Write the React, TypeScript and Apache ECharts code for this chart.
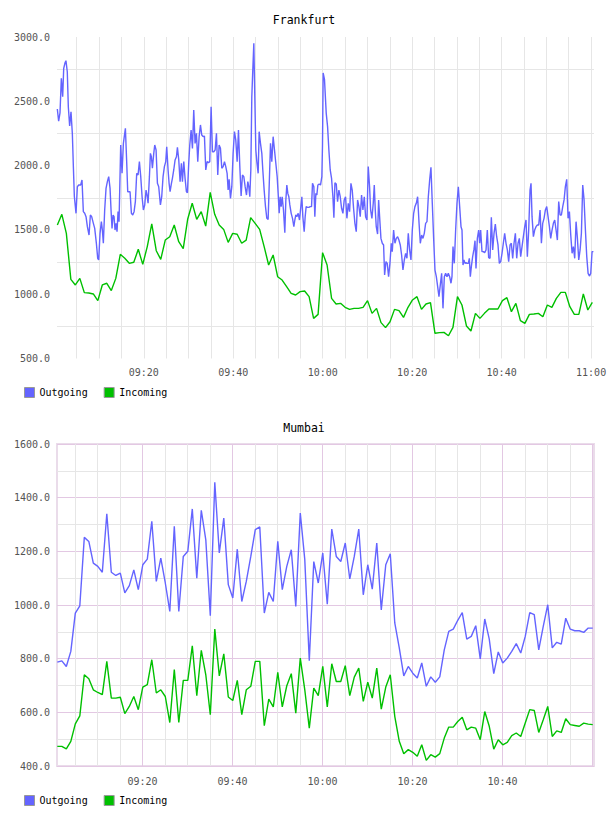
import React, { useEffect, useRef } from 'react';
import * as echarts from 'echarts';

// ---------- text ----------
const frankfurtTitle = 'Frankfurt';
const mumbaiTitle = 'Mumbai';
const seriesNames = ['Outgoing', 'Incoming'];

// ---------- Frankfurt (time in minutes after 09:00) ----------
const frankfurtXRange = [0.6, 120.65];
const frankfurtYRange = [500, 3000];

const frankfurtOutgoing: [number, number][] = [
  [0.67, 2440], [0.97, 2345], [1.27, 2410], [1.57, 2679], [1.87, 2536], [2.10, 2756], [2.40, 2800], [2.60, 2816], [2.90, 2730], [3.13, 2458],
  [3.43, 2308], [3.73, 2419], [4.03, 2250], [4.25, 2000], [4.48, 1760], [4.85, 1629], [5.15, 1836], [5.45, 1849], [5.89, 1849], [6.19, 1888],
  [6.49, 1642], [6.79, 1629], [7.09, 1603], [7.39, 1525], [7.76, 1460], [8.06, 1616], [8.35, 1603], [8.73, 1551], [9.03, 1512], [9.40, 1396],
  [9.70, 1279], [9.92, 1266], [10.22, 1473], [10.52, 1564], [10.74, 1499], [10.96, 1396], [11.26, 1655], [11.56, 1823], [11.86, 1875], [12.16, 1914],
  [12.46, 1823], [12.68, 1655], [12.90, 1512], [13.13, 1616], [13.35, 1603], [13.57, 1499], [13.80, 1551], [14.02, 1486], [14.25, 1642], [14.47, 1564],
  [14.84, 2160], [15.14, 1940], [15.44, 2173], [15.89, 2290], [16.19, 2018], [16.41, 1797], [16.93, 1797], [17.23, 1629], [17.53, 1616], [17.83, 1642],
  [18.12, 1720], [18.42, 1940], [18.72, 1927], [19.02, 2031], [19.32, 1914], [19.62, 1758], [19.91, 1655], [20.21, 1694], [20.51, 1810], [20.73, 1771],
  [20.96, 1707], [21.26, 1914], [21.48, 2095], [21.70, 2069], [21.93, 1979], [22.23, 2095], [22.45, 2160], [22.75, 2121], [23.05, 1862], [23.34, 1836],
  [23.72, 1694], [24.01, 1758], [24.31, 1914], [24.61, 1992], [24.91, 2031], [25.13, 2147], [25.43, 1966], [25.66, 1862], [25.88, 1797], [26.18, 1862],
  [26.40, 1901], [26.70, 1966], [27.00, 2044], [27.30, 2069], [27.52, 2142], [27.82, 2044], [28.12, 1875], [28.41, 2018], [28.64, 1875], [28.94, 2031],
  [29.23, 1901], [29.53, 1797], [29.76, 1790], [30.05, 2018], [30.28, 2160], [30.58, 2277], [30.88, 2134], [31.17, 2432], [31.47, 2173], [31.77, 2251],
  [32.07, 2031], [32.37, 2225], [32.67, 2316], [32.96, 2238], [33.26, 2225], [33.56, 2230], [33.86, 1966], [34.16, 2031], [34.46, 2023], [34.75, 2031],
  [35.05, 2458], [35.35, 2108], [35.65, 2108], [35.95, 2121], [36.25, 2251], [36.54, 1927], [36.84, 2160], [37.14, 2134], [37.44, 1979], [37.74, 1992],
  [38.04, 2031], [38.33, 1992], [38.63, 1940], [38.86, 1810], [39.08, 1893], [39.38, 1745], [39.68, 1836], [39.97, 2095], [40.27, 2264], [40.57, 2199],
  [40.87, 2031], [41.17, 2277], [41.47, 1992], [41.76, 1764], [42.06, 1927], [42.36, 1914], [42.66, 1836], [42.96, 1771], [43.26, 1875], [43.48, 1836],
  [43.70, 1758], [43.93, 1966], [44.15, 2536], [44.37, 2743], [44.60, 2951], [44.82, 2536], [45.05, 2121], [45.27, 2031], [45.57, 1940], [45.79, 2264],
  [46.09, 2173], [46.39, 2095], [46.61, 1966], [46.91, 1810], [47.21, 1681], [47.51, 1590], [47.80, 1582], [48.10, 1914], [48.33, 2173], [48.62, 2031],
  [48.92, 2225], [49.22, 2121], [49.52, 2018], [49.82, 1914], [50.04, 1784], [50.27, 1629], [50.49, 1758], [50.71, 1681], [50.94, 1758], [51.23, 1655],
  [51.53, 1478], [51.76, 1733], [51.98, 1849], [52.20, 1784], [52.43, 1758], [52.65, 1694], [52.95, 1629], [53.25, 1590], [53.55, 1525], [53.77, 1577],
  [53.99, 1616], [54.22, 1603], [54.52, 1629], [54.81, 1577], [55.11, 1681], [55.34, 1758], [55.56, 1603], [55.86, 1486], [56.08, 1603], [56.30, 1681],
  [56.60, 1675], [56.90, 1675], [57.20, 1681], [57.50, 1681], [57.72, 1862], [58.02, 1836], [58.24, 1603], [58.47, 1784], [58.69, 1771], [58.92, 1849],
  [59.21, 1857], [59.51, 1849], [59.81, 1914], [59.95, 2150], [60.10, 2720], [60.40, 2670], [60.79, 2406], [61.09, 2303], [61.38, 2121], [61.68, 1966],
  [61.98, 1901], [62.28, 1758], [62.50, 1595], [62.73, 1867], [63.03, 1857], [63.32, 1720], [63.62, 1810], [63.92, 1758], [64.22, 1668], [64.52, 1629],
  [64.81, 1733], [65.11, 1758], [65.41, 1590], [65.71, 1707], [66.01, 1642], [66.31, 1862], [66.60, 1810], [66.90, 1668], [67.20, 1551], [67.50, 1486],
  [67.80, 1733], [68.10, 1681], [68.39, 1603], [68.69, 1771], [68.99, 1655], [69.29, 1758], [69.59, 1603], [69.89, 1577], [70.18, 1992], [70.48, 1836],
  [70.71, 1655], [71.00, 1590], [71.30, 1707], [71.53, 1849], [71.75, 1655], [71.97, 1525], [72.27, 1468], [72.50, 1733], [72.72, 1603], [73.02, 1434],
  [73.32, 1396], [73.61, 1383], [73.84, 1149], [74.14, 1253], [74.43, 1240], [74.73, 1136], [75.03, 1240], [75.33, 1396], [75.55, 1331], [75.85, 1499],
  [76.15, 1396], [76.45, 1434], [76.75, 1447], [77.04, 1421], [77.34, 1383], [77.64, 1305], [77.94, 1188], [78.24, 1266], [78.54, 1318], [78.83, 1279],
  [79.13, 1473], [79.43, 1344], [79.73, 1266], [80.03, 1499], [80.33, 1629], [80.62, 1681], [80.92, 1707], [81.22, 1758], [81.52, 1564], [81.82, 1396],
  [82.12, 1460], [82.41, 1434], [82.71, 1473], [83.01, 1551], [83.31, 1564], [83.61, 1758], [83.91, 1888], [84.20, 1986], [84.50, 1707], [84.80, 1434],
  [85.10, 1188], [85.40, 1136], [85.70, 1059], [85.99, 981], [86.29, 1072], [86.59, 1162], [86.89, 890], [87.19, 1136], [87.48, 1162], [87.78, 1136],
  [88.08, 1162], [88.38, 1136], [88.68, 1085], [88.90, 1136], [89.13, 1370], [89.42, 1240], [89.72, 1499], [90.02, 1707], [90.32, 1836], [90.62, 1681],
  [90.92, 1525], [91.14, 1499], [91.36, 1227], [91.58, 1266], [91.81, 1240], [92.03, 1245], [92.26, 1240], [92.55, 1240], [92.78, 1279], [93.00, 1136],
  [93.23, 1214], [93.52, 1292], [93.82, 1350], [94.05, 1416], [94.27, 1201], [94.57, 1434], [94.87, 1499], [95.09, 1396], [95.31, 1499], [95.61, 1331],
  [95.91, 1331], [96.21, 1323], [96.51, 1344], [96.80, 1499], [97.10, 1284], [97.40, 1279], [97.70, 1598], [98.00, 1344], [98.30, 1473], [98.59, 1546],
  [98.89, 1447], [99.19, 1383], [99.49, 1240], [99.79, 1253], [100.09, 1318], [100.38, 1396], [100.68, 1473], [100.98, 1396], [101.28, 1344], [101.58, 1253],
  [101.88, 1383], [102.17, 1396], [102.47, 1279], [102.77, 1396], [103.07, 1473], [103.37, 1279], [103.67, 1396], [103.96, 1434], [104.26, 1292], [104.56, 1370],
  [104.86, 1447], [105.16, 1525], [105.45, 1577], [105.75, 1292], [106.05, 1499], [106.35, 1810], [106.57, 1862], [106.80, 1603], [107.10, 1447], [107.39, 1499],
  [107.69, 1525], [107.99, 1538], [108.29, 1538], [108.59, 1655], [108.89, 1396], [109.18, 1551], [109.48, 1590], [109.78, 1655], [110.08, 1681], [110.38, 1603],
  [110.68, 1525], [110.97, 1434], [111.27, 1499], [111.57, 1551], [111.87, 1577], [112.17, 1499], [112.46, 1421], [112.76, 1720], [113.06, 1616], [113.36, 1616],
  [113.66, 1681], [113.96, 1733], [114.25, 1836], [114.55, 1893], [114.85, 1590], [115.15, 1642], [115.45, 1460], [115.75, 1318], [116.04, 1370], [116.34, 1279],
  [116.64, 1564], [116.94, 1434], [117.24, 1266], [117.54, 1344], [117.83, 1473], [118.13, 1849], [118.43, 1733], [118.73, 1499], [119.03, 1292], [119.33, 1162],
  [119.62, 1141], [119.92, 1162], [120.22, 1331], [120.52, 1331],
];

// one sample per minute
const frankfurtIncomingStart = 0.68;
const frankfurtIncomingStep = 1.005;
const frankfurtIncoming = [
  1538, 1621, 1473, 1115, 1072, 1123, 1012, 1009, 1002, 950,
  1072, 1085, 1028, 1123, 1310, 1279, 1240, 1248, 1349, 1232,
  1370, 1546, 1338, 1271, 1421, 1447, 1538, 1408, 1354, 1585,
  1707, 1582, 1642, 1530, 1792, 1621, 1538, 1504, 1403, 1473,
  1466, 1396, 1421, 1595, 1551, 1504, 1370, 1227, 1305, 1136,
  1110, 1059, 1007, 994, 1020, 1025, 981, 812, 843, 1323,
  1227, 968, 924, 929, 898, 882, 890, 890, 898, 950,
  851, 890, 779, 740, 786, 882, 872, 820, 898, 955,
  981, 882, 924, 934, 696, 701, 703, 677, 742, 981,
  916, 753, 714, 851, 812, 851, 885, 885, 885, 950,
  973, 864, 929, 794, 773, 843, 846, 851, 825, 916,
  898, 968, 1014, 1014, 903, 843, 843, 1002, 877, 937,
];

// ---------- Mumbai ----------
const mumbaiXRange = [1.0, 120.35];
const mumbaiYRange = [400, 1600];
const mumbaiStart = 1.07;
const mumbaiStep = 1.0;
const mumbaiOutgoing = [
  787, 792, 771, 827, 970, 997, 1252, 1237, 1156, 1144,
  1122, 1340, 1122, 1110, 1119, 1045, 1072, 1131, 1057, 1150,
  1171, 1312, 1088, 1175, 1082, 976, 1293, 976, 1181, 1200,
  1358, 1100, 1353, 1243, 960, 1457, 1194, 1324, 1076, 1026,
  1208, 1013, 1088, 1181, 1281, 1291, 970, 1047, 1013, 1237,
  1057, 1144, 1206, 995, 1343, 1169, 792, 1162, 1082, 1194,
  1003, 1283, 1181, 1162, 1231, 1097, 1181, 1283, 1038, 1150,
  1059, 1231, 982, 1150, 1191, 933, 840, 736, 771, 746,
  728, 784, 697, 732, 712, 732, 833, 902, 910, 943,
  972, 873, 883, 923, 799, 948, 873, 744, 825, 784,
  802, 827, 856, 821, 883, 972, 964, 833, 920, 1001,
  840, 861, 854, 951, 910, 904, 904, 898, 914, 914,
];
const mumbaiIncoming = [
  473, 473, 464, 492, 557, 587, 740, 725, 684, 674,
  666, 790, 653, 653, 656, 595, 622, 659, 610, 694,
  703, 796, 672, 684, 659, 562, 759, 562, 719, 719,
  848, 662, 831, 740, 591, 910, 736, 818, 657, 644,
  719, 591, 684, 697, 790, 790, 550, 649, 620, 749,
  620, 699, 744, 597, 802, 684, 541, 690, 662, 771,
  620, 781, 715, 715, 774, 662, 731, 765, 641, 712,
  653, 765, 612, 694, 740, 585, 492, 446, 461, 451,
  436, 479, 421, 442, 433, 446, 504, 545, 545, 566,
  582, 535, 545, 541, 498, 603, 548, 463, 498, 479,
  488, 513, 523, 510, 560, 610, 607, 525, 572, 622,
  510, 531, 525, 576, 554, 551, 548, 560, 556, 554,
];

// ---------- styling ----------
const BLUE = '#6464ff';
const GREEN = '#00c000';
const GRID_GRAY = '#e6e6e6';
const GRID_PURPLE = '#e3c8e3';
const MONO = '"DejaVu Sans Mono", monospace';

const minutesToClock = (m: number) => {
  const total = Math.round(m);
  const h = 9 + Math.floor(total / 60);
  const mm = total % 60;
  return `${String(h).padStart(2, '0')}:${String(mm).padStart(2, '0')}`;
};

const isMultiple = (v: number, step: number) => Math.abs(v / step - Math.round(v / step)) < 1e-6;

const buildUniform = (values: number[], start: number, step: number) =>
  values.map((v, i) => [start + i * step, v]);

export default function App() {
  const ref = useRef<HTMLDivElement>(null);

  useEffect(() => {
    if (!ref.current) return;
    const chart = echarts.init(ref.current, null, { renderer: 'svg' });

    const axisLabelStyle = { fontFamily: MONO, fontSize: 10, color: '#545454' };
    const titleStyle = { fontFamily: MONO, fontSize: 11.5, fontWeight: 'normal' as const, color: '#000' };
    const legendBase = {
      orient: 'horizontal' as const,
      left: 24,
      padding: 0,
      icon: 'rect',
      itemWidth: 10,
      itemHeight: 10,
      itemGap: 16,
      itemStyle: { borderColor: '#999', borderWidth: 1 },
      textStyle: { fontFamily: MONO, fontSize: 10, color: '#000' },
      data: seriesNames,
    };

    const option: any = {
      animation: false,
      backgroundColor: '#fff',
      title: [
        { text: frankfurtTitle, left: 'center', top: 14, padding: 0, textStyle: titleStyle },
        { text: mumbaiTitle, left: 'center', top: 422, padding: 0, textStyle: titleStyle },
      ],
      legend: [
        { ...legendBase, top: 387 },
        { ...legendBase, top: 795 },
      ],
      grid: [
        { left: 57, top: 37, right: 14, height: 321.5, containLabel: false, outerBoundsMode: 'none', show: false },
        {
          left: 57, top: 444, right: 14, height: 322, containLabel: false, outerBoundsMode: 'none',
          show: true, borderColor: '#eadcea', borderWidth: 2, backgroundColor: 'transparent',
        },
      ],
      xAxis: [
        {
          type: 'value', gridIndex: 0,
          min: frankfurtXRange[0], max: frankfurtXRange[1],
          splitNumber: 24, minInterval: 5, maxInterval: 5,
          axisLine: { show: false }, axisTick: { show: false },
          axisLabel: {
            ...axisLabelStyle, margin: 9, showMinLabel: true, showMaxLabel: true,
            formatter: (v: number) => (isMultiple(v, 20) ? minutesToClock(v) : ''),
          },
          splitLine: { show: true, showMinLine: false, showMaxLine: false, lineStyle: { color: GRID_GRAY, width: 1 } },
        },
        {
          type: 'value', gridIndex: 1,
          min: mumbaiXRange[0], max: mumbaiXRange[1],
          splitNumber: 24, minInterval: 5, maxInterval: 5,
          axisLine: { show: false }, axisTick: { show: false },
          axisLabel: {
            ...axisLabelStyle, margin: 10,
            formatter: (v: number) => (isMultiple(v, 20) && v < 120 ? minutesToClock(v) : ''),
          },
          splitLine: {
            show: true, showMinLine: false, showMaxLine: false,
            lineStyle: { color: [GRID_GRAY, GRID_GRAY, GRID_GRAY, GRID_PURPLE], width: 1 },
          },
        },
      ],
      yAxis: [
        {
          type: 'value', gridIndex: 0,
          min: frankfurtYRange[0], max: frankfurtYRange[1], interval: 250,
          axisLine: { show: false }, axisTick: { show: false },
          axisLabel: {
            ...axisLabelStyle, margin: 7,
            formatter: (v: number) => (isMultiple(v, 500) ? v.toFixed(1) : ''),
          },
          splitLine: { show: true, lineStyle: { color: ['transparent', GRID_GRAY], width: 1 } },
        },
        {
          type: 'value', gridIndex: 1,
          min: mumbaiYRange[0], max: mumbaiYRange[1], interval: 100,
          axisLine: { show: false }, axisTick: { show: false },
          axisLabel: {
            ...axisLabelStyle, margin: 7,
            formatter: (v: number) => (isMultiple(v, 200) ? v.toFixed(1) : ''),
          },
          splitLine: { show: true, lineStyle: { color: [GRID_PURPLE, GRID_GRAY], width: 1 } },
        },
      ],
      series: [
        {
          name: seriesNames[0], type: 'line', xAxisIndex: 0, yAxisIndex: 0,
          data: frankfurtOutgoing, showSymbol: false, color: BLUE,
          lineStyle: { color: BLUE, width: 1.4 }, z: 3,
        },
        {
          name: seriesNames[1], type: 'line', xAxisIndex: 0, yAxisIndex: 0,
          data: buildUniform(frankfurtIncoming, frankfurtIncomingStart, frankfurtIncomingStep),
          showSymbol: false, color: GREEN, lineStyle: { color: GREEN, width: 1.4 }, z: 2,
        },
        {
          name: seriesNames[0], type: 'line', xAxisIndex: 1, yAxisIndex: 1,
          data: buildUniform(mumbaiOutgoing, mumbaiStart, mumbaiStep),
          showSymbol: false, color: BLUE, lineStyle: { color: BLUE, width: 1.4 }, z: 3,
        },
        {
          name: seriesNames[1], type: 'line', xAxisIndex: 1, yAxisIndex: 1,
          data: buildUniform(mumbaiIncoming, mumbaiStart, mumbaiStep),
          showSymbol: false, color: GREEN, lineStyle: { color: GREEN, width: 1.4 }, z: 2,
        },
      ],
    };

    chart.setOption(option);
    return () => chart.dispose();
  }, []);

  return (
    <div
      ref={ref}
      style={{ position: 'absolute', left: 0, top: 0, width: 608, height: 816, background: '#fff' }}
    />
  );
}
